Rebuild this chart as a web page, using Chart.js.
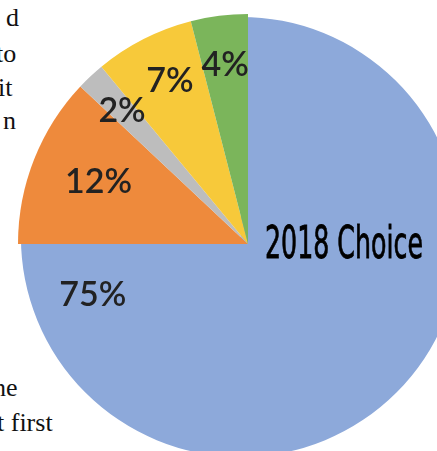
<!DOCTYPE html>
<html lang="en">

<head>
    <meta charset="UTF-8">
    <title>2018 Choice</title>
    <script src="https://cdn.jsdelivr.net/npm/chart.js"></script>
    <style>
        html, body { margin: 0; padding: 0; width: 437px; height: 451px; overflow: hidden; background: #fff; }
        .page { position: relative; width: 437px; height: 451px; overflow: hidden; }
        .pie-wrap { position: absolute; left: 18px; top: 14px; width: 460px; height: 460px; }
        .side { position: absolute; font-family: "Liberation Serif", serif; font-size: 26px; line-height: 26px; color: #111; white-space: nowrap; }
        .caption { position: absolute; left: 265px; top: 220px; font-family: "Liberation Sans Narrow", "DejaVu Sans Condensed", "DejaVu Sans", sans-serif; font-stretch: condensed; font-size: 45px; line-height: 45px; color: #000; -webkit-text-stroke: 0.8px #000; white-space: nowrap; transform-origin: 0 0; }
    </style>
</head>

<body>
    <div class="page">
        <!-- body text of the page wrapping round the chart -->
        <span class="side" style="left:6px; top:5px;">d</span>
        <span class="side" style="left:-4px; top:41px;">to</span>
        <span class="side" style="left:-2px; top:75px;">it</span>
        <span class="side" style="left:3px; top:108px;">n</span>
        <span class="side" style="left:-7px; top:375px;">he</span>
        <span class="side" style="left:-3px; top:410px;">t first</span>

        <div class="pie-wrap">
            <canvas id="choiceChart" width="460" height="460"></canvas>
        </div>
        <div class="caption" id="caption">2018 Choice</div>
    </div>
    <script>
        // valors del gràfic
        const categories = ['A', 'B', 'C', 'D', 'E'];
        const values = [75, 12, 2, 7, 4];
        const sliceColors = ['#8DA9DA', '#EE8A3C', '#BDBDBD', '#F7C93A', '#7BB55B'];

        // on va cada etiqueta: fracció de l'angle del sector i fracció del radi
        const labelAlong = [0.934, 0.53, 0.5, 0.56, 0.5];
        const labelRadius = [0.709, 0.705, 0.80, 0.79, 0.79];

        const pctLabels = {
            id: 'pctLabels',
            afterDatasetsDraw(chart) {
                const ctx = chart.ctx;
                const meta = chart.getDatasetMeta(0);
                ctx.save();
                ctx.font = '600 34px Lato, "Open Sans", sans-serif';
                ctx.fillStyle = '#222';
                ctx.textAlign = 'center';
                ctx.textBaseline = 'alphabetic';
                meta.data.forEach((arc, i) => {
                    const p = arc.getProps(['x', 'y', 'startAngle', 'endAngle', 'outerRadius'], true);
                    const a = p.startAngle + (p.endAngle - p.startAngle) * labelAlong[i];
                    const r = p.outerRadius * labelRadius[i];
                    ctx.fillText(values[i] + '%', p.x + Math.cos(a) * r, p.y + Math.sin(a) * r + 12.5);
                });
                ctx.restore();
            }
        };

        const ctx = document.getElementById('choiceChart').getContext('2d');
        new Chart(ctx, {
            type: 'pie',
            data: {
                labels: categories,
                datasets: [{
                    data: values,
                    backgroundColor: sliceColors,
                    borderWidth: 0,
                    hoverBorderWidth: 0,
                    hoverOffset: 0,
                    offset: [-40, 0, 0, 0, 0]  // the big slice sits a bit up-left in the original
                }]
            },
            options: {
                responsive: false,
                animation: false,
                events: [],
                layout: { padding: 0 },
                plugins: {
                    legend: { display: false },
                    tooltip: { enabled: false },
                    title: { display: false }
                }
            },
            plugins: [pctLabels]
        });

        // condensed title text, squeezed to the width in the picture
        const cap = document.getElementById('caption');
        const w = cap.getBoundingClientRect().width;
        cap.style.transform = 'scaleX(' + (158 / w) + ')';
    </script>
</body>

</html>
